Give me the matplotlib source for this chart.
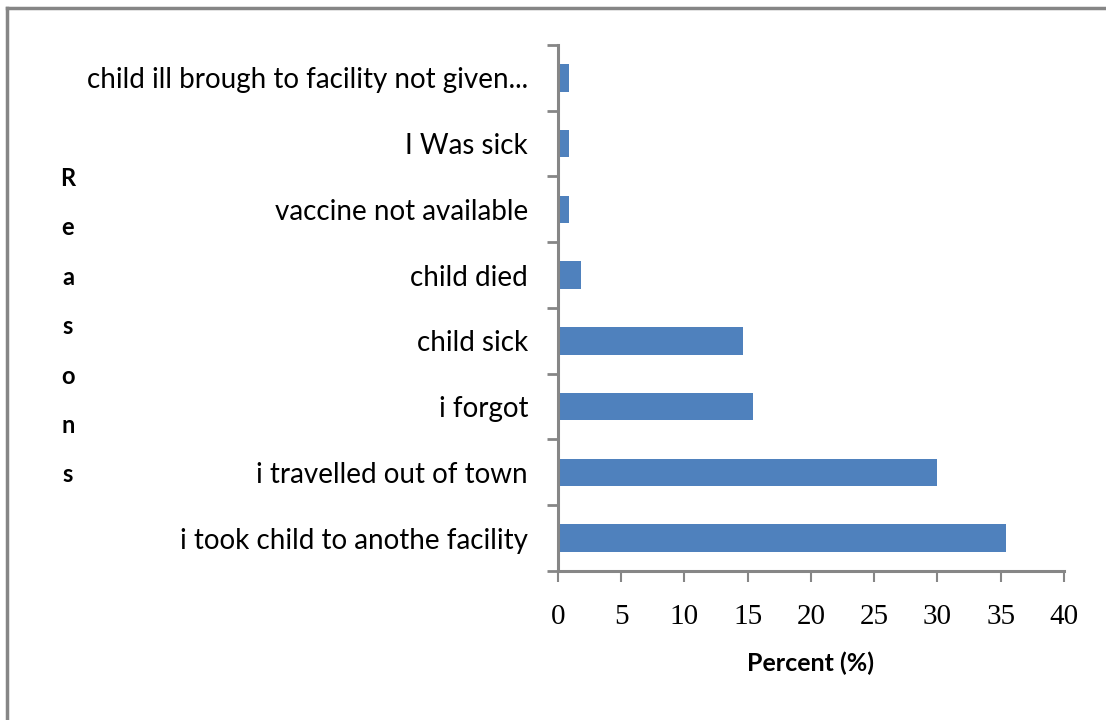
import matplotlib.pyplot as plt
from matplotlib.lines import Line2D
from matplotlib.ticker import FixedLocator

plt.rcParams['font.family'] = ['Lato', 'DejaVu Sans']

reasons = [
    "i took child to anothe facility",
    "i travelled out of town",
    "i forgot",
    "child sick",
    "child died",
    "vaccine not available",
    "I Was sick",
    "child ill brough to facility not given...",
]
percent = [35.4, 30.0, 15.4, 14.6, 1.8, 0.9, 0.9, 0.9]
x_ticks = [0, 5, 10, 15, 20, 25, 30, 35, 40]

bar_color = '#4f81bd'
axis_gray = '#868686'

fig = plt.figure(figsize=(11.06, 7.2), dpi=100)
ax = fig.add_axes([0.5045, 0.207, 0.4575, 0.7305])

pos = list(range(len(reasons)))
ax.barh(pos, percent, height=0.42, color=bar_color)

ax.set_xlim(0, 40)
ax.set_ylim(-0.5, len(reasons) - 0.5)
ax.set_xticks(x_ticks)
ax.set_xticklabels([str(t) for t in x_ticks], fontsize=21,
                   family=['Liberation Serif', 'DejaVu Serif'])
ax.set_yticks(pos)
ax.set_yticklabels(reasons, fontsize=20)
ax.yaxis.set_minor_locator(FixedLocator([p + 0.5 for p in range(-1, len(reasons))]))
ax.tick_params(axis='y', which='major', length=0, pad=21.5)
ax.tick_params(axis='y', which='minor', length=8, width=2, color=axis_gray)
ax.tick_params(axis='x', length=8, width=1.5, color=axis_gray, pad=16)

for side in ['top', 'right']:
    ax.spines[side].set_visible(False)
for side in ['left', 'bottom']:
    ax.spines[side].set_color(axis_gray)
    ax.spines[side].set_linewidth(2.2)

ax.set_xlabel("Percent (%)", fontsize=18, fontweight='bold', labelpad=15)

fig.text(0.0615, 0.768, "\n".join("Reasons"), fontsize=17, fontweight='bold',
         ha='center', va='top', linespacing=2.39)

# chart frame (left and top edges)
fig.add_artist(Line2D([7 / 1106, 7 / 1106], [0, 1 - 8 / 720], color=axis_gray, lw=2.5))
fig.add_artist(Line2D([7 / 1106, 1], [1 - 8 / 720, 1 - 8 / 720], color=axis_gray, lw=2.5))

fig.savefig("out.png", dpi=100)
